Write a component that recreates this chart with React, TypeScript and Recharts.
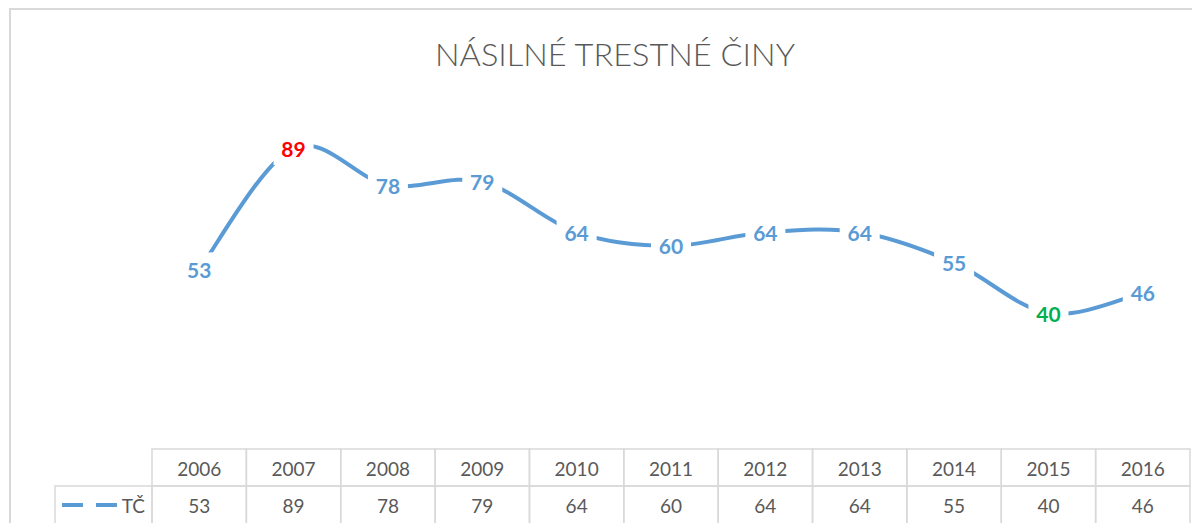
import React from 'react';
import { LineChart, Line, XAxis, YAxis, LabelList } from 'recharts';

const title = 'NÁSILNÉ TRESTNÉ ČINY';
const seriesName = 'TČ';
const years = [2006, 2007, 2008, 2009, 2010, 2011, 2012, 2013, 2014, 2015, 2016];
const values = [53, 89, 78, 79, 64, 60, 64, 64, 55, 40, 46];

const data = years.map((year, i) => ({ year, value: values[i] }));

const BLUE = '#5B9BD5';
const GRID = '#D9D9D9';
const TEXT = '#595959';
const FONT = 'Lato, "Noto Sans", sans-serif';

const maxV = Math.max(...values);
const minV = Math.min(...values);
const labelColor = (v: number) => (v === maxV ? '#FF0000' : v === minV ? '#00B050' : BLUE);

const W = 1192;
const H = 523;
const MARGIN = { top: 103, right: 10, bottom: 7, left: 144 };
const COL_W = (W - MARGIN.left - MARGIN.right) / years.length;

// Excel-like smoothing (Catmull-Rom style cubic Bezier)
const excelCurve = (context: any) => {
  let pts: [number, number][] = [];
  let line = NaN;
  return {
    areaStart() { line = 0; },
    areaEnd() { line = NaN; },
    lineStart() { pts = []; },
    point(x: number, y: number) { pts.push([+x, +y]); },
    lineEnd() {
      const n = pts.length;
      if (n > 0) {
        if (line) context.lineTo(pts[0][0], pts[0][1]);
        else context.moveTo(pts[0][0], pts[0][1]);
        const k = 1 / 6;
        for (let i = 0; i < n - 1; i++) {
          const p0 = pts[Math.max(i - 1, 0)];
          const p1 = pts[i];
          const p2 = pts[i + 1];
          const p3 = pts[Math.min(i + 2, n - 1)];
          context.bezierCurveTo(
            p1[0] + (p2[0] - p0[0]) * k, p1[1] + (p2[1] - p0[1]) * k,
            p2[0] - (p3[0] - p1[0]) * k, p2[1] - (p3[1] - p1[1]) * k,
            p2[0], p2[1]
          );
        }
      }
      line = 1 - line;
    },
  };
};

const renderLabel = (props: any) => {
  const { x, y, value } = props;
  if (x == null || y == null) return null;
  const w = String(value).length * 12 + 16;
  const h = 34;
  return (
    <g>
      <rect x={x - w / 2} y={y - h / 2} width={w} height={h} fill="#FFFFFF" />
      <text
        x={x}
        y={y}
        textAnchor="middle"
        dominantBaseline="central"
        fill={labelColor(value)}
        fontFamily={FONT}
        fontWeight={700}
        fontSize={21}
      >
        {value}
      </text>
    </g>
  );
};

const TableTick = (props: any) => {
  const { x, y, payload, index } = props;
  const i = years.indexOf(payload.value);
  const left = x - COL_W / 2;
  const top = y + 1;
  return (
    <g>
      <rect x={left} y={top} width={COL_W} height={37} fill="none" stroke={GRID} strokeWidth={1.5} />
      <rect x={left} y={top + 37} width={COL_W} height={38} fill="none" stroke={GRID} strokeWidth={1.5} />
      <text x={x} y={top + 19} textAnchor="middle" dominantBaseline="central" fill={TEXT} fontFamily={FONT} fontSize={19}>
        {payload.value}
      </text>
      <text x={x} y={top + 56.5} textAnchor="middle" dominantBaseline="central" fill={TEXT} fontFamily={FONT} fontSize={19}>
        {values[i]}
      </text>
      {index === 0 && (
        <g>
          <rect x={left - 97} y={top + 37} width={97} height={38} fill="none" stroke={GRID} strokeWidth={1.5} />
          <line x1={left - 90} x2={left - 35} y1={top + 56} y2={top + 56} stroke={BLUE} strokeWidth={4} strokeDasharray="21 13" />
          <text x={left - 7} y={top + 56.5} textAnchor="end" dominantBaseline="central" fill={TEXT} fontFamily={FONT} fontSize={19}>
            {seriesName}
          </text>
        </g>
      )}
    </g>
  );
};

export default function App() {
  return (
    <div style={{ position: 'relative', width: W, height: H, marginBottom: -8, overflow: 'hidden', background: '#FFFFFF' }}>
      <div
        style={{
          position: 'absolute',
          left: 1,
          top: 0,
          right: -10,
          bottom: -10,
          borderTop: `2px solid ${GRID}`,
          borderLeft: `2px solid ${GRID}`,
        }}
      />
      <svg width={W} height={80} style={{ position: 'absolute', left: 0, top: 0 }}>
        <text
          x={607}
          y={58}
          textAnchor="middle"
          fill={TEXT}
          fontFamily={FONT}
          fontWeight={300}
          fontSize={32}
          textLength={360}
          lengthAdjust="spacingAndGlyphs"
        >
          {title}
        </text>
      </svg>
      <div style={{ position: 'absolute', left: 0, top: 0 }}>
        <LineChart width={W} height={H} data={data} margin={MARGIN}>
          <XAxis
            dataKey="year"
            type="number"
            domain={[2005.5, 2016.5]}
            ticks={years}
            interval={0}
            height={76}
            axisLine={false}
            tickLine={false}
            tickSize={0}
            tickMargin={0}
            tick={<TableTick />}
          />
          <YAxis hide domain={[0, 100]} />
          <Line
            dataKey="value"
            type={excelCurve as any}
            stroke={BLUE}
            strokeWidth={4}
            strokeLinecap="butt"
            dot={false}
            activeDot={false}
            isAnimationActive={false}
          >
            <LabelList dataKey="value" content={renderLabel} />
          </Line>
        </LineChart>
      </div>
    </div>
  );
}
